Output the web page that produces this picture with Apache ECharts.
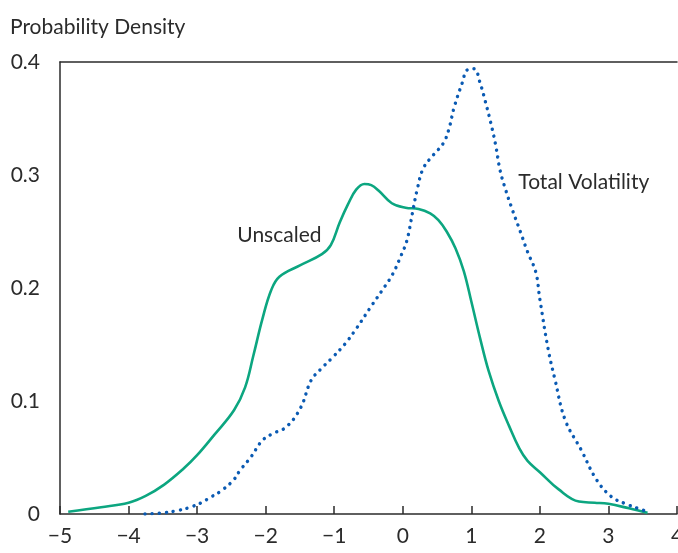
<!DOCTYPE html>
<html>
<head>
<meta charset="utf-8">
<script src="https://cdn.jsdelivr.net/npm/echarts@6/dist/echarts.min.js"></script>
<style>
  html, body { margin: 0; padding: 0; background: #fff; }
  #chart { width: 678px; height: 553px; }
</style>
</head>
<body>
<div id="chart"></div>
<script>
// Unscaled (solid green) density, [x, y]
var unscaledX = [-4.88, -4.4, -4.0, -3.75, -3.48, -3.2, -3.0, -2.75, -2.46, -2.3, -2.18, -2.05, -1.92, -1.8, -1.5, -1.18, -1.05, -0.92, -0.8, -0.68, -0.56, -0.46, -0.35, -0.16, 0.04, 0.23, 0.4, 0.52, 0.64, 0.77, 0.89, 1.0, 1.13, 1.25, 1.4, 1.55, 1.7, 1.82, 2.0, 2.27, 2.57, 2.8, 3.0, 3.3, 3.57];
var unscaledY = [0.002, 0.006, 0.010, 0.016, 0.026, 0.040, 0.052, 0.070, 0.092, 0.112, 0.140, 0.172, 0.198, 0.210, 0.220, 0.230, 0.238, 0.258, 0.274, 0.287, 0.292, 0.291, 0.286, 0.275, 0.271, 0.270, 0.266, 0.260, 0.250, 0.235, 0.215, 0.188, 0.155, 0.127, 0.100, 0.078, 0.058, 0.047, 0.037, 0.022, 0.011, 0.010, 0.009, 0.005, 0.001];

// Total Volatility (dotted blue) density
var totalX = [-3.76, -3.5, -3.29, -3.1, -2.94, -2.8, -2.66, -2.47, -2.37, -2.22, -2.05, -1.9, -1.7, -1.49, -1.34, -1.2, -1.05, -0.85, -0.69, -0.47, -0.3, -0.15, -0.03, 0.06, 0.14, 0.21, 0.3, 0.45, 0.59, 0.67, 0.75, 0.87, 0.94, 1.04, 1.13, 1.2, 1.28, 1.35, 1.42, 1.5, 1.6, 1.72, 1.82, 1.94, 2.0, 2.12, 2.22, 2.37, 2.6, 2.83, 3.05, 3.25, 3.43, 3.57];
var totalY = [0.0, 0.001, 0.003, 0.006, 0.010, 0.015, 0.020, 0.030, 0.039, 0.050, 0.065, 0.071, 0.077, 0.094, 0.118, 0.128, 0.137, 0.150, 0.163, 0.183, 0.198, 0.212, 0.228, 0.242, 0.266, 0.287, 0.306, 0.318, 0.328, 0.340, 0.360, 0.382, 0.393, 0.394, 0.381, 0.366, 0.347, 0.328, 0.304, 0.287, 0.269, 0.249, 0.232, 0.214, 0.190, 0.146, 0.119, 0.083, 0.057, 0.030, 0.015, 0.009, 0.005, 0.002];

var xTicks = [-5, -4, -3, -2, -1, 0, 1, 2, 3, 4];
var yTicks = [0, 0.1, 0.2, 0.3, 0.4];

function pairs(xs, ys) {
    return xs.map(function (x, i) { return [x, ys[i]]; });
}

var green = '#0ca680';
var blue = '#0a5ab3';
var ink = '#2b2b2b';
var font = 'Lato';
var fs = 21;

var chart = echarts.init(document.getElementById('chart'), null, { renderer: 'canvas' });

var xMin = xTicks[0], xMax = xTicks[xTicks.length - 1];
var yMin = yTicks[0], yMax = yTicks[yTicks.length - 1];

var option = {
    animation: false,
    title: {
        text: 'Probability Density',
        left: 5,
        top: 12,
        textStyle: { fontFamily: font, fontSize: fs, fontWeight: 'normal', color: ink }
    },
    grid: { left: 60, right: 1, top: 62, bottom: 39, containLabel: false, outerBoundsMode: 'none' },
    xAxis: [{
        type: 'value',
        position: 'bottom',
        min: xMin,
        max: xMax,
        interval: 1,
        axisLine: { show: true, onZero: false, lineStyle: { color: ink, width: 1.5 } },
        axisTick: { show: true, inside: true, length: 8, lineStyle: { color: ink, width: 1.5 } },
        splitLine: { show: false },
        axisLabel: {
            fontFamily: font, fontSize: fs, color: ink, margin: 12,
            formatter: function (v) { return v < 0 ? '\u2212' + Math.abs(v) : String(v); }
        }
    }, {
        // top frame line
        type: 'value',
        position: 'top',
        min: xMin,
        max: xMax,
        interval: 1,
        axisLine: { show: true, onZero: false, lineStyle: { color: ink, width: 1.5 } },
        axisTick: { show: false },
        axisLabel: { show: false },
        splitLine: { show: false }
    }],
    yAxis: {
        type: 'value',
        min: yMin,
        max: yMax,
        interval: 0.1,
        axisLine: { show: true, onZero: false, lineStyle: { color: ink, width: 1.5 } },
        axisTick: { show: false },
        splitLine: { show: false },
        axisLabel: {
            fontFamily: font, fontSize: fs, color: ink, margin: 20,
            formatter: function (v) { return v === 0 ? '0' : v.toFixed(1); }
        }
    },
    series: [{
        name: 'Unscaled',
        type: 'line',
        xAxisIndex: 0,
        smooth: 0.4,
        showSymbol: false,
        lineStyle: { color: green, width: 2.6 },
        data: pairs(unscaledX, unscaledY),
        markPoint: {
            symbol: 'circle',
            symbolSize: 0,
            label: {
                show: true, position: 'inside', formatter: 'Unscaled',
                fontFamily: font, fontSize: fs, color: ink
            },
            data: [{ coord: [-1.8, 0.247] }]
        }
    }, {
        name: 'Total Volatility',
        type: 'line',
        xAxisIndex: 0,
        smooth: 0.4,
        showSymbol: false,
        lineStyle: { color: blue, width: 3.4, type: [0.1, 7], cap: 'round' },
        data: pairs(totalX, totalY),
        markPoint: {
            symbol: 'circle',
            symbolSize: 0,
            label: {
                show: true, position: 'inside', formatter: 'Total Volatility',
                fontFamily: font, fontSize: fs, color: ink
            },
            data: [{ coord: [2.64, 0.294] }]
        }
    }]
};

chart.setOption(option);
</script>
</body>
</html>
